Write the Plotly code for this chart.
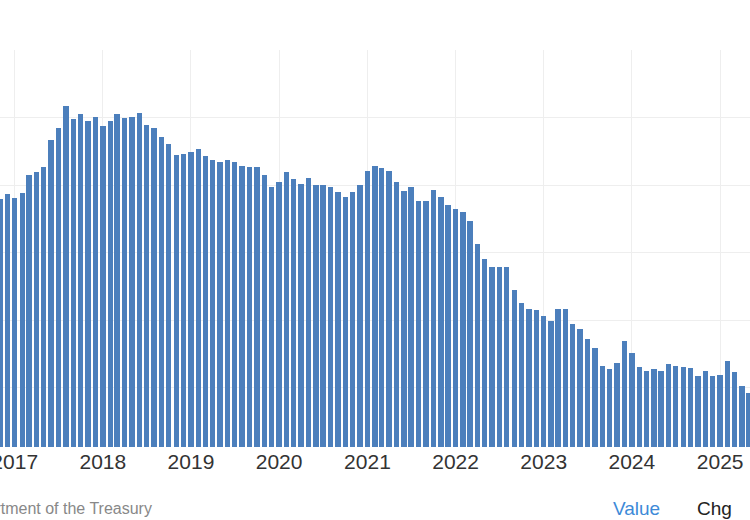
import pandas as pd
import plotly.graph_objects as go

# Monthly values (arbitrary units, gridlines every 100)
months = pd.date_range("2016-11-01", "2025-05-01", freq="MS")
values = [
    1078.8, 1086.7,
    1080.7, 1088.6, 1114.8, 1118.8, 1126.7, 1166.7, 1184.4, 1217.0, 1198.2, 1204.7, 1194.8, 1200.7,
    1187.0, 1194.8, 1204.7, 1198.8, 1200.7, 1207.1, 1188.9, 1184.9, 1171.1, 1161.2, 1144.4, 1146.7,
    1148.9, 1152.9, 1142.5, 1136.6, 1134.1, 1136.6, 1134.5, 1128.6, 1126.7, 1126.7, 1114.4, 1096.6,
    1104.4, 1118.8, 1108.4, 1101.0, 1110.4, 1100.4, 1100.4, 1096.6, 1090.1, 1082.2, 1090.1, 1100.4,
    1120.3, 1128.1, 1124.7, 1120.7, 1104.4, 1090.7, 1096.6, 1076.7, 1076.7, 1092.6, 1082.7, 1070.4,
    1064.4, 1060.4, 1046.7, 1012.6, 990.8, 978.5, 978.5, 978.5, 944.4, 924.7, 916.3, 914.4,
    906.4, 898.5, 916.3, 916.3, 894.5, 886.7, 872.3, 858.5, 832.3, 827.0, 836.3, 868.4,
    850.7, 830.4, 824.4, 827.0, 824.4, 834.4, 832.3, 830.4, 828.4, 816.6, 824.4, 816.6,
    818.5, 839.3, 822.5, 802.2, 792.3,
]
year_ticks = [f"{y}-01-01" for y in range(2017, 2026)]
year_labels = [str(y) for y in range(2017, 2026)]

bar_color = "#4c7fbc"
grid_color = "#eeeeee"

fig = go.Figure(
    go.Bar(
        x=months,
        y=values,
        marker=dict(color=bar_color, line=dict(width=0)),
        width=22.5 * 24 * 3600 * 1000,
        hoverinfo="x+y",
    )
)

fig.update_layout(
    width=750,
    height=520,
    margin=dict(l=0, r=0, t=50, b=73, pad=0, autoexpand=False),
    paper_bgcolor="white",
    plot_bgcolor="white",
    showlegend=False,
    font=dict(family="Liberation Sans, Arial, sans-serif", color="#333333"),
    bargap=0,
)

fig.update_xaxes(
    type="date",
    range=["2016-11-01", "2025-05-04 12:00"],
    tickvals=year_ticks,
    ticktext=year_labels,
    showgrid=True,
    gridcolor=grid_color,
    gridwidth=1,
    ticks="",
    showline=False,
    zeroline=False,
    automargin=False,
    ticklabeloverflow="allow",
    tickfont=dict(size=21, color="#333333"),
)

fig.update_yaxes(
    range=[711.9, 1300.2],
    tick0=700,
    dtick=100,
    showgrid=True,
    gridcolor=grid_color,
    gridwidth=1,
    showticklabels=False,
    ticks="",
    zeroline=False,
    showline=False,
    automargin=False,
)

fig.add_annotation(
    text="Source: U.S. Department of the Treasury",
    xref="paper", yref="paper",
    x=154 / 750, y=-0.1554,
    xanchor="right", yanchor="middle",
    showarrow=False,
    font=dict(size=16, color="#888888"),
)
fig.add_annotation(
    text="Value",
    xref="paper", yref="paper",
    x=636.4 / 750, y=-0.1554,
    xanchor="center", yanchor="middle",
    showarrow=False,
    font=dict(size=19, color="#3d8ad8"),
)
fig.add_annotation(
    text="Chg",
    xref="paper", yref="paper",
    x=714.5 / 750, y=-0.1554,
    xanchor="center", yanchor="middle",
    showarrow=False,
    font=dict(size=19, color="#222222"),
)

fig.write_html(
    "out.html",
    config={"displayModeBar": False},
    post_script="document.body.style.margin='0';document.body.style.overflow='hidden';",
)
